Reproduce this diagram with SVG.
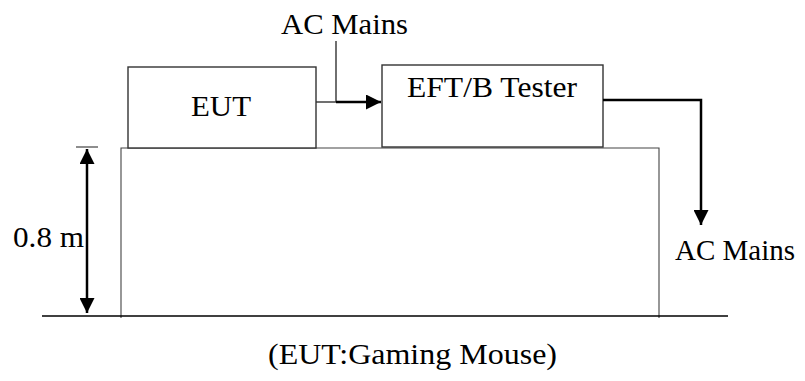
<svg xmlns="http://www.w3.org/2000/svg" width="805" height="381" viewBox="0 0 805 381">
<defs>
<style>
.lbl{font-family:"Liberation Serif","Times New Roman",serif;font-size:29px;fill:#000}
.box{fill:#fff;stroke:#333;stroke-width:1.4}
.thin{fill:none;stroke:#444;stroke-width:1.1}
.wire{fill:none;stroke:#000;stroke-width:2.5}
</style>
<marker id="ah" viewBox="0 0 10 10" refX="10" refY="5" markerWidth="6" markerHeight="6" markerUnits="strokeWidth" orient="auto-start-reverse">
<path d="M0,0 L10,5 L0,10 z" fill="#000"/>
</marker>
</defs>
<rect width="805" height="381" fill="#fff"/>
<g id="table">
<path class="thin" d="M121,318 V148 H659 V318"/>
<line x1="42" y1="316" x2="728" y2="316" stroke="#000" stroke-width="1.3"/>
</g>
<g id="eut">
<rect class="box" x="128" y="67" width="188" height="81"/>
<text class="lbl" x="191" y="116" textLength="60" lengthAdjust="spacingAndGlyphs">EUT</text>
</g>
<g id="tester">
<rect class="box" x="382" y="65" width="221" height="82"/>
<text class="lbl" x="407" y="97" textLength="170" lengthAdjust="spacingAndGlyphs">EFT/B Tester</text>
</g>
<g id="ac-top">
<text class="lbl" x="281" y="34" textLength="127" lengthAdjust="spacingAndGlyphs">AC Mains</text>
</g>
<g id="ac-right">
<text class="lbl" x="675" y="260" textLength="120" lengthAdjust="spacingAndGlyphs">AC Mains</text>
</g>
<g id="height">
<line x1="76" y1="147" x2="98" y2="147" stroke="#444" stroke-width="1.2"/>
<line x1="87" y1="149" x2="87" y2="313" stroke="#000" stroke-width="2.5" marker-start="url(#ah)" marker-end="url(#ah)"/>
<text class="lbl" x="13" y="247" textLength="71" lengthAdjust="spacingAndGlyphs">0.8 m</text>
</g>
<g id="connectors">
<line x1="316" y1="102" x2="336" y2="102" stroke="#333" stroke-width="1.4"/>
<line x1="336" y1="41" x2="336" y2="102" stroke="#333" stroke-width="1.4"/>
<line class="wire" x1="336" y1="102" x2="381" y2="102" marker-end="url(#ah)"/>
<path class="wire" d="M603,100 H701 V225" marker-end="url(#ah)"/>
</g>
<g id="caption">
<text class="lbl" x="268" y="364" textLength="289" lengthAdjust="spacingAndGlyphs">(EUT:Gaming Mouse)</text>
</g>
</svg>
